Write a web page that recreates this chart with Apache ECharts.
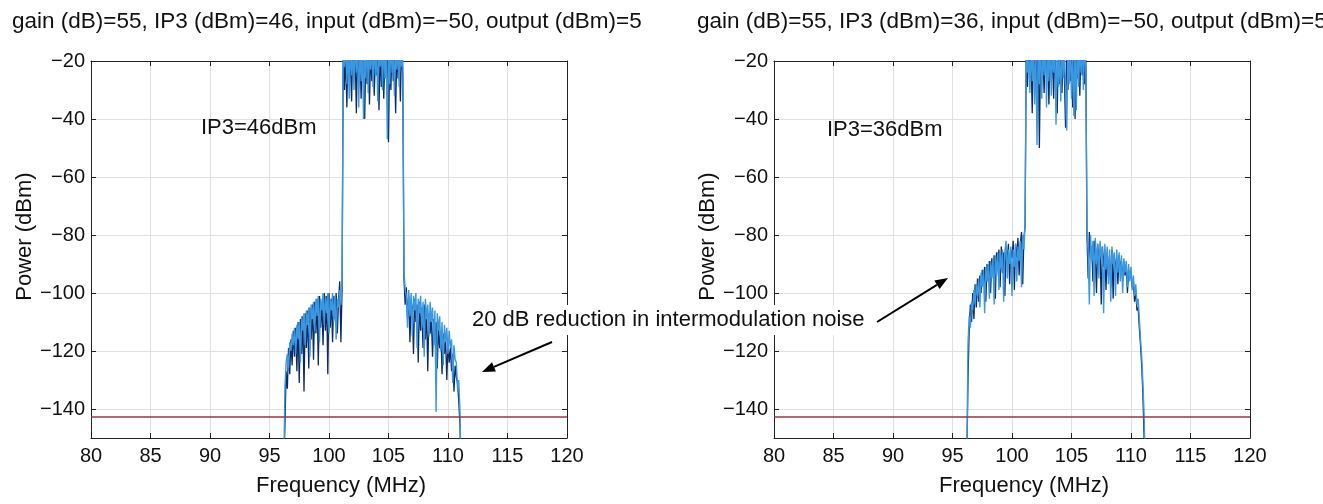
<!DOCTYPE html>
<html>
<head>
<meta charset="utf-8">
<script src="https://cdn.jsdelivr.net/npm/echarts@6/dist/echarts.min.js"></script>
<style>
  html, body { margin: 0; padding: 0; background: #fff; }
  #chart { width: 1323px; height: 504px; }
</style>
</head>
<body>
<div id="chart"></div>
<script>
// frequency grid of the traces (MHz)
const FREQ = [
  96.2, 96.3, 96.4, 96.5, 96.6, 96.7, 96.8, 96.9, 97.0, 97.1,
  97.2, 97.3, 97.4, 97.5, 97.6, 97.7, 97.8, 97.9, 98.0, 98.1,
  98.2, 98.3, 98.4, 98.5, 98.6, 98.7, 98.8, 98.9, 99.0, 99.1,
  99.2, 99.3, 99.4, 99.5, 99.6, 99.7, 99.8, 99.9, 100.0, 100.1,
  100.2, 100.3, 100.4, 100.5, 100.6, 100.7, 100.8, 100.9, 101.0, 101.1,
  101.2, 101.3, 101.4, 101.5, 101.6, 101.7, 101.8, 101.9, 102.0, 102.1,
  102.2, 102.3, 102.4, 102.5, 102.6, 102.7, 102.8, 102.9, 103.0, 103.1,
  103.2, 103.3, 103.4, 103.5, 103.6, 103.7, 103.8, 103.9, 104.0, 104.1,
  104.2, 104.3, 104.4, 104.5, 104.6, 104.7, 104.8, 104.9, 105.0, 105.1,
  105.2, 105.3, 105.4, 105.5, 105.6, 105.7, 105.8, 105.9, 106.0, 106.1,
  106.2,
  106.3, 106.4, 106.5, 106.6, 106.7, 106.8, 106.9, 107.0, 107.1, 107.2,
  107.3, 107.4, 107.5, 107.6, 107.7, 107.8, 107.9, 108.0, 108.1, 108.2,
  108.3, 108.4, 108.5, 108.6, 108.7, 108.8, 108.9, 109.0, 109.1, 109.2,
  109.3, 109.4, 109.5, 109.6, 109.7, 109.8, 109.9, 110.0, 110.1, 110.2,
  110.3, 110.4, 110.5, 110.6, 110.7, 110.8, 110.9, 111.0, 111.1, 111.2
];

// IP3 = 46 dBm, light trace (dBm)
const IP46_LIGHT = [
  -160, -132, -124, -121, -126, -117, -120, -114, -118, -112,
  -121, -111, -116, -110, -124, -108, -113, -107, -118, -106,
  -111, -105, -122, -104, -109, -103, -113, -102, -108, -101,
  -117, -102, -106, -100, -111, -101, -107, -100, -114, -102,
  -106, -100, -110, -101, -116, -102, -105, -99, -104, -96,
  -12, -22, -14, -28, -15, -33, -13, -25, -16, -30,
  -12, -24, -15, -36, -14, -27, -13, -40, -16, -26,
  -12, -31, -15, -23, -14, -29, -12, -25, -16, -34,
  -13, -22, -15, -30, -12, -26, -14, -47, -15, -28,
  -13, -24, -16, -32, -12, -23, -15, -29, -13, -22,
  -14,
  -92, -99, -101, -112, -99, -108, -100, -115, -101, -106,
  -100, -119, -102, -107, -101, -112, -103, -122, -102, -109,
  -104, -115, -103, -110, -105, -118, -106, -141, -107, -113,
  -108, -120, -110, -125, -111, -117, -112, -121, -113, -119,
  -116, -131, -118, -123, -124, -133, -130, -140, -160, -165
];

// IP3 = 46 dBm, dark trace (dBm)
const IP46_DARK = [
  -160, -145, -127, -133, -119, -128, -116, -125, -113, -122,
  -112, -127, -110, -131, -109, -121, -108, -134, -107, -119,
  -106, -126, -105, -116, -104, -123, -103, -114, -102, -125,
  -101, -112, -103, -118, -100, -113, -101, -128, -100, -112,
  -102, -117, -101, -109, -100, -114, -103, -96, -117, -98,
  -15, -30, -18, -36, -14, -27, -19, -34, -13, -24,
  -18, -38, -14, -29, -17, -33, -15, -26, -40, -16,
  -28, -13, -35, -17, -27, -14, -32, -18, -25, -15,
  -37, -16, -29, -14, -33, -18, -26, -15, -48, -17,
  -30, -14, -27, -18, -38, -15, -26, -17, -34, -14,
  -25,
  -95, -104, -98, -109, -101, -117, -103, -105, -121, -102,
  -110, -104, -124, -103, -113, -105, -119, -104, -116, -106,
  -127, -107, -114, -108, -122, -109, -117, -110, -126, -111,
  -119, -113, -128, -114, -121, -116, -130, -117, -124, -119,
  -127, -121, -134, -125, -129, -131, -137, -145, -160, -165
];

// IP3 = 36 dBm, light trace (dBm)
const IP36_LIGHT = [
  -160, -118, -108, -112, -103, -106, -99, -104, -97, -101,
  -95, -105, -93, -98, -92, -107, -91, -96, -90, -102,
  -89, -95, -88, -104, -87, -94, -86, -99, -86, -92,
  -85, -103, -86, -82, -95, -85, -90, -84, -101, -85,
  -91, -83, -96, -84, -89, -82, -98, -80, -85, -76,
  -10, -24, -13, -31, -15, -27, -12, -35, -16, -49,
  -14, -28, -13, -33, -16, -25, -12, -36, -15, -27,
  -13, -32, -16, -24, -14, -42, -13, -29, -16, -34,
  -12, -26, -15, -31, -44, -14, -28, -13, -33, -16,
  -39, -14, -37, -12, -29, -15, -24, -13, -30, -14,
  -22,
  -78, -86, -104, -80, -89, -82, -101, -81, -90, -83,
  -95, -82, -88, -84, -107, -83, -92, -84, -97, -85,
  -103, -84, -90, -86, -101, -85, -93, -86, -96, -87,
  -100, -88, -93, -89, -98, -90, -96, -91, -99, -94,
  -101, -97, -104, -102, -109, -116, -122, -131, -142, -160
];

// IP3 = 36 dBm, dark trace (dBm)
const IP36_DARK = [
  -160, -130, -113, -104, -110, -100, -109, -97, -105, -95,
  -103, -94, -100, -92, -97, -91, -103, -90, -96, -89,
  -100, -88, -93, -87, -102, -86, -91, -85, -98, -84,
  -93, -86, -101, -84, -89, -83, -97, -85, -88, -82,
  -99, -83, -88, -81, -94, -83, -79, -97, -81, -77,
  -14, -29, -12, -26, -18, -38, -14, -23, -17, -30,
  -13, -50, -15, -26, -18, -31, -14, -24, -17, -35,
  -13, -27, -18, -33, -15, -25, -38, -14, -28, -17,
  -31, -13, -25, -43, -16, -30, -14, -27, -18, -36,
  -15, -40, -13, -26, -17, -32, -14, -25, -18, -28,
  -15,
  -80, -95, -79, -88, -84, -96, -82, -87, -100, -83,
  -89, -85, -104, -84, -91, -85, -99, -86, -94, -87,
  -98, -85, -102, -87, -92, -88, -97, -87, -91, -89,
  -96, -89, -94, -91, -100, -92, -95, -93, -98, -96,
  -103, -99, -106, -105, -112, -118, -125, -135, -150, -165
];

const NOISE_FLOOR = -142.5;
const X_TICKS = [80, 85, 90, 95, 100, 105, 110, 115, 120];
const Y_TICKS = [-140, -120, -100, -80, -60, -40, -20];
const TITLES = [
  'gain (dB)=55, IP3 (dBm)=46, input (dBm)=\u221250, output (dBm)=5',
  'gain (dB)=55, IP3 (dBm)=36, input (dBm)=\u221250, output (dBm)=5'
];
const LABELS = ['IP3=46dBm', 'IP3=36dBm'];
const NOTE = '20 dB reduction in intermodulation noise';

const FONT = "'Liberation Sans', Arial, Helvetica, sans-serif";
const minus = v => String(v).replace('-', '\u2212');

const pairs = arr => FREQ.map((f, i) => [f, arr[i]]);

const grids = [
  { left: 91, top: 61, width: 476, height: 377 },
  { left: 774, top: 61, width: 476, height: 377 }
];

const xAxes = [];
const yAxes = [];
grids.forEach((g, i) => {
  xAxes.push({
    gridIndex: i, type: 'value', min: X_TICKS[0], max: X_TICKS[X_TICKS.length - 1], interval: 5,
    name: 'Frequency (MHz)', nameLocation: 'middle', nameGap: 37,
    nameTextStyle: { fontFamily: FONT, fontSize: 22, color: '#111', padding: [0, 0, 0, 24] },
    axisLine: { lineStyle: { color: '#222', width: 1 } },
    axisTick: { inside: true, length: 5, lineStyle: { color: '#222' } },
    axisLabel: { fontFamily: FONT, fontSize: 20, color: '#111', margin: 8 },
    splitLine: { show: true, lineStyle: { color: '#e0e0e0', width: 1 } }
  });
  xAxes.push({
    gridIndex: i, type: 'value', position: 'top', min: 80, max: 120, interval: 5,
    axisLine: { lineStyle: { color: '#222', width: 1 } },
    axisTick: { inside: true, length: 5, lineStyle: { color: '#222' } },
    axisLabel: { show: false }, splitLine: { show: false }
  });
  yAxes.push({
    gridIndex: i, type: 'value', min: -150, max: -20,
    name: 'Power (dBm)', nameLocation: 'middle', nameGap: 51,
    nameTextStyle: { fontFamily: FONT, fontSize: 22, color: '#111', padding: [0, 0, 0, 26] },
    axisLine: { show: true, lineStyle: { color: '#222', width: 1 } },
    axisTick: { show: true, inside: true, length: 5, customValues: Y_TICKS, lineStyle: { color: '#222' } },
    axisLabel: { fontFamily: FONT, fontSize: 20, color: '#111', margin: 6, customValues: Y_TICKS, formatter: minus },
    splitLine: { show: true, lineStyle: { color: '#e0e0e0', width: 1 } }
  });
  yAxes.push({
    gridIndex: i, type: 'value', position: 'right', min: -150, max: -20,
    axisLine: { show: true, lineStyle: { color: '#222', width: 1 } },
    axisTick: { show: true, inside: true, length: 5, customValues: Y_TICKS, lineStyle: { color: '#222' } },
    axisLabel: { show: false }, splitLine: { show: false }
  });
});

const trace = (name, arr, panel, color, width, z) => ({
  name, type: 'line', xAxisIndex: panel * 2, yAxisIndex: panel * 2,
  data: pairs(arr), showSymbol: false, symbol: 'none', clip: true, z,
  lineStyle: { color, width }
});

const floor = panel => ({
  type: 'line', xAxisIndex: panel * 2, yAxisIndex: panel * 2, data: [], z: 4,
  markLine: {
    silent: true, symbol: ['none', 'none'], label: { show: false },
    lineStyle: { color: '#963642', width: 1.5, type: 'solid' },
    data: [{ yAxis: NOISE_FLOOR }]
  }
});

const arrow = (x1, y1, x2, y2) => {
  const a = Math.atan2(y2 - y1, x2 - x1);
  const L = 13, W = 5;
  const bx = x2 - L * Math.cos(a), by = y2 - L * Math.sin(a);
  return [
    { type: 'line', z: 100, shape: { x1, y1, x2: bx, y2: by }, style: { stroke: '#000', lineWidth: 2 } },
    { type: 'polygon', z: 100, shape: { points: [
      [x2, y2],
      [bx + W * Math.sin(a), by - W * Math.cos(a)],
      [bx - W * Math.sin(a), by + W * Math.cos(a)]
    ] }, style: { fill: '#000' } }
  ];
};

const chart = echarts.init(document.getElementById('chart'), null, { renderer: 'canvas' });
chart.setOption({
  backgroundColor: '#fff',
  animation: false,
  title: [
    { text: TITLES[0], left: 7, top: 5, textStyle: { fontFamily: FONT, fontSize: 22.5, fontWeight: 'normal', color: '#111' } },
    { text: TITLES[1], left: 692, top: 5, textStyle: { fontFamily: FONT, fontSize: 22.5, fontWeight: 'normal', color: '#111' } }
  ],
  grid: grids,
  xAxis: xAxes,
  yAxis: yAxes,
  series: [
    trace('IP3 46 dark', IP46_DARK, 0, '#0c2a62', 1.3, 2),
    trace('IP3 46 light', IP46_LIGHT, 0, '#3a98e2', 1.4, 3),
    floor(0),
    trace('IP3 36 dark', IP36_DARK, 1, '#0c2a62', 1.3, 2),
    trace('IP3 36 light', IP36_LIGHT, 1, '#3a98e2', 1.4, 3),
    floor(1)
  ],
  graphic: [
    { type: 'text', z: 100, left: 201, top: 117, style: { text: LABELS[0], font: '22px ' + FONT, fill: '#111' } },
    { type: 'text', z: 100, left: 827, top: 119, style: { text: LABELS[1], font: '22px ' + FONT, fill: '#111' } },
    { type: 'text', z: 100, left: 469, top: 305, style: {
      text: NOTE, font: '22px ' + FONT, fill: '#111', backgroundColor: '#fff', padding: [4, 3]
    } },
    ...arrow(552, 342, 482, 372),
    ...arrow(877, 322, 948, 278)
  ]
});
</script>
</body>
</html>
